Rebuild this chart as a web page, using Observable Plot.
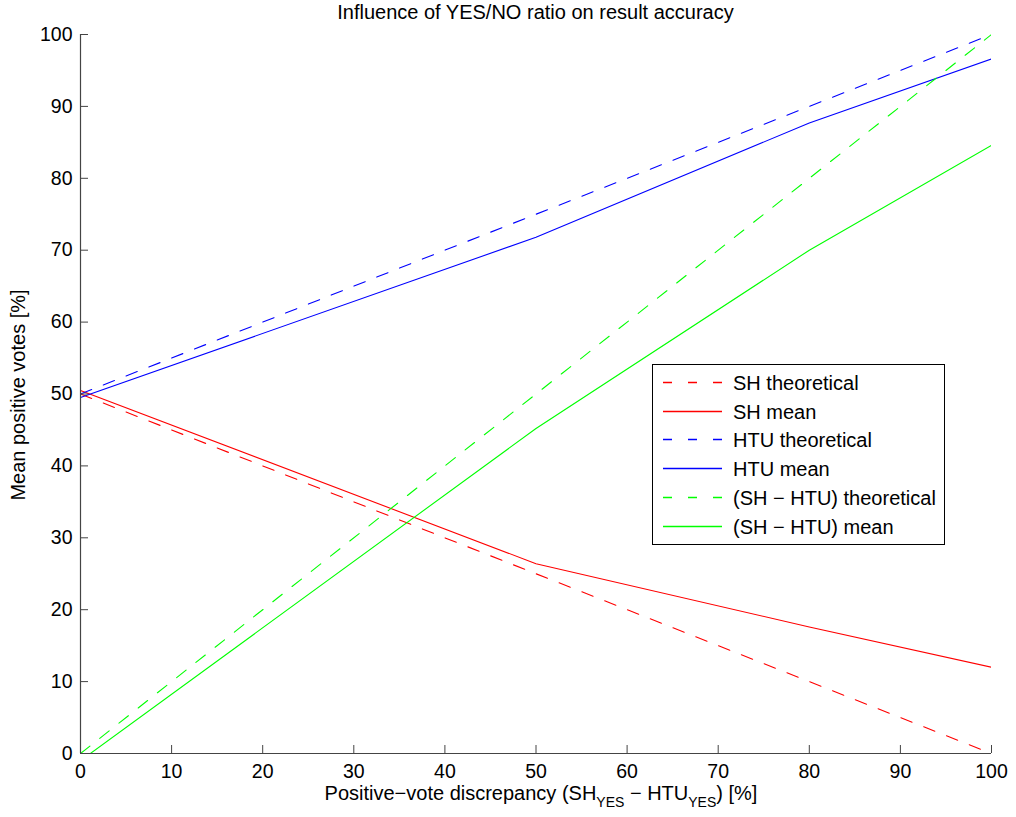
<!DOCTYPE html>
<html>
<head>
<meta charset="utf-8">
<script src="https://cdn.jsdelivr.net/npm/d3@7"></script>
<script src="https://cdn.jsdelivr.net/npm/@observablehq/plot@0.6"></script>
<style>
  html, body { margin: 0; padding: 0; background: #fff; }
  #wrap { position: relative; width: 1016px; height: 817px; font-family: "Liberation Sans", Arial, Helvetica, sans-serif; }
  #title { position: absolute; left: 80px; width: 911px; top: 1px; text-align: center; font-size: 20px; line-height: 23px; color: #000; white-space: nowrap; }
</style>
</head>
<body>
<div id="wrap">
  <div id="title">Influence of YES/NO ratio on result accuracy</div>
  <div id="chart"></div>
</div>
<script>
// ---- data ----
const xs = [0, 50, 80, 100];
const shTheo = [50, 25, 10, 0];
const shMean = [50.5, 26.4, 17.6, 12.0];
const htuTheo = [50, 75, 90, 100];
const htuMean = [49.5, 71.8, 87.7, 96.6];
const diffTheo = [0, 50, 80, 100];
const diffMean = [-1.0, 45.2, 70.0, 84.6];
const ticks = [0, 10, 20, 30, 40, 50, 60, 70, 80, 90, 100];

const seriesDefs = [
  {name: "SH theoretical", vals: shTheo, color: "#ff0000", dash: true},
  {name: "SH mean", vals: shMean, color: "#ff0000", dash: false},
  {name: "HTU theoretical", vals: htuTheo, color: "#0000ff", dash: true},
  {name: "HTU mean", vals: htuMean, color: "#0000ff", dash: false},
  {name: "(SH \u2212 HTU) theoretical", vals: diffTheo, color: "#00ff00", dash: true},
  {name: "(SH \u2212 HTU) mean", vals: diffMean, color: "#00ff00", dash: false}
];

const lineMarks = seriesDefs.map(s =>
  Plot.line(xs.map((x, i) => ({x, y: s.vals[i]})), {
    x: "x", y: "y", stroke: s.color, strokeWidth: 1.1,
    strokeDasharray: s.dash ? "12,12.5" : undefined, clip: true
  })
);

const chart = Plot.plot({
  width: 1016,
  height: 817,
  marginLeft: 80,
  marginRight: 25,
  marginTop: 34,
  marginBottom: 64,
  style: {fontFamily: "'Liberation Sans', Arial, Helvetica, sans-serif", fontSize: "19px", background: "white", color: "black"},
  x: {domain: [0, 100]},
  y: {domain: [0, 100]},
  marks: [
    ...lineMarks,
    Plot.axisX({ticks, tickSize: -8, tickPadding: 19, label: null, fontSize: 19, stroke: "#444", color: "black"}),
    Plot.axisY({ticks, tickSize: -8, tickPadding: 16, label: null, fontSize: 19, stroke: "#444", color: "black"}),
    Plot.ruleX([0], {stroke: "#444", strokeWidth: 1.2}),
    Plot.ruleY([0], {stroke: "#444", strokeWidth: 1.2})
  ]
});
document.getElementById("chart").appendChild(chart);

const svg = d3.select(chart);
const ff = "'Liberation Sans', Arial, Helvetica, sans-serif";
svg.selectAll("text").style("font-size", "19.5px").style("font-family", ff).attr("fill", "black");

// y axis label
svg.append("text")
  .attr("transform", "translate(25,395) rotate(-90)")
  .attr("text-anchor", "middle")
  .style("font-family", ff).style("font-size", "20px").attr("fill", "black")
  .text("Mean positive votes [%]");

// x axis label with subscripts
const xl = svg.append("text")
  .attr("x", 541).attr("y", 800)
  .attr("text-anchor", "middle")
  .style("font-family", ff).style("font-size", "20px").attr("fill", "black");
xl.append("tspan").text("Positive\u2212vote discrepancy (SH");
xl.append("tspan").attr("dy", 7).style("font-size", "14px").text("YES");
xl.append("tspan").attr("dy", -7).text(" \u2212 HTU");
xl.append("tspan").attr("dy", 7).style("font-size", "14px").text("YES");
xl.append("tspan").attr("dy", -7).text(") [%]");

// legend
const lg = svg.append("g").attr("transform", "translate(652,364)");
lg.append("rect").attr("x", 0.5).attr("y", 0.5).attr("width", 292).attr("height", 180)
  .attr("fill", "white").attr("stroke", "black").attr("stroke-width", 1);
seriesDefs.forEach((s, i) => {
  const cy = Math.round(18 + i * 28.7) + 0.5;
  lg.append("line").attr("x1", 11).attr("x2", 70).attr("y1", cy).attr("y2", cy)
    .attr("stroke", s.color).attr("stroke-width", 1.5)
    .attr("stroke-dasharray", s.dash ? "9,16" : null);
  lg.append("text").attr("x", 81).attr("y", cy).attr("dy", "0.35em")
    .attr("text-anchor", "start")
    .style("font-family", ff).style("font-size", "20px").attr("fill", "black")
    .text(s.name);
});
</script>
</body>
</html>
